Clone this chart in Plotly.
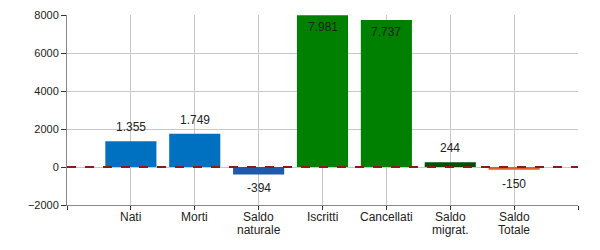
import plotly.graph_objects as go

categories = ["Nati", "Morti", "Saldo<br>naturale", "Iscritti", "Cancellati", "Saldo<br>migrat.", "Saldo<br>Totale"]
values = [1355, 1749, -394, 7981, 7737, 244, -150]
labels = ["1.355", "1.749", "-394", "7.981", "7.737", "244", "-150"]
colors = ["#0070C0", "#0070C0", "#1F5AAA", "#008000", "#008000", "#005000", "#E0602A"]
label_inside = [False, False, False, True, True, False, False]

x_pos = list(range(len(categories)))
FONT = "Liberation Sans, Arial"

fig = go.Figure()
fig.add_trace(go.Bar(
    x=x_pos, y=values, width=0.8,
    marker=dict(color=colors, line=dict(width=0)),
    hoverinfo="skip",
))

# value labels
for xp, v, lab, inside in zip(x_pos, values, labels, label_inside):
    if inside:
        shift = -12
    else:
        shift = 14 if v >= 0 else -14
    fig.add_annotation(x=xp, y=v, text=lab, showarrow=False, yshift=shift,
                       xanchor="center", yanchor="middle",
                       font=dict(family=FONT, size=12, color="#222222"))

# category labels (multi-line, tight spacing)
for xp, cat in zip(x_pos, categories):
    for i, line in enumerate(cat.split("<br>")):
        fig.add_annotation(x=xp, xref="x", y=0, yref="paper", text=line,
                           showarrow=False, yshift=-12 - 12.5 * i,
                           xanchor="center", yanchor="middle",
                           font=dict(family=FONT, size=12, color="#222222"))

fig.add_shape(type="line", xref="paper", yref="y", x0=0, x1=1, y0=0, y1=0,
              line=dict(color="#8B1A1A", width=2, dash="dash"), layer="above")

fig.update_layout(
    width=600, height=250,
    margin=dict(l=67, r=22, t=15, b=45, autoexpand=False),
    plot_bgcolor="white", paper_bgcolor="white",
    showlegend=False,
    font=dict(family=FONT, size=12, color="#222222"),
)
fig.update_xaxes(
    range=[-1, 7],
    tickvals=list(range(-1, 8)),
    ticktext=[""] * 9,
    showgrid=True, gridcolor="#C8C8C8", gridwidth=1,
    showline=True, linecolor="#888888", linewidth=1,
    ticks="outside", ticklen=4, tickcolor="#333333",
    zeroline=False, automargin=False,
)
fig.update_yaxes(
    range=[-2000, 8000],
    tickvals=[-2000, 0, 2000, 4000, 6000, 8000],
    tickformat="d",
    showgrid=True, gridcolor="#C8C8C8", gridwidth=1,
    showline=True, linecolor="#888888", linewidth=1,
    ticks="outside", ticklen=5, tickcolor="#333333",
    tickfont=dict(size=11, color="#222222"),
    zeroline=False, automargin=False,
)

fig.write_html("out.html")
